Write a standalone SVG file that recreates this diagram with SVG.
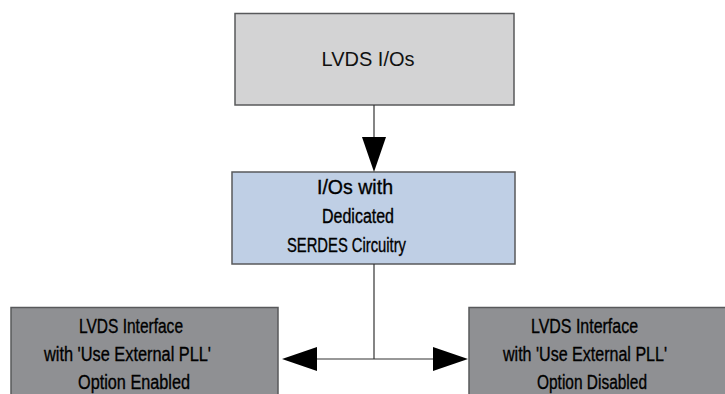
<svg xmlns="http://www.w3.org/2000/svg" width="725" height="394" viewBox="0 0 725 394">
<style>
.box{stroke:#58595b;stroke-width:1.5}
.t1{font-family:"Liberation Sans",Arial,sans-serif;font-size:20px;fill:#111}
.t2{font-family:"Liberation Sans",Arial,sans-serif;font-size:20px;fill:#000;stroke:#000;stroke-width:0.35}
.ln{stroke:#333;stroke-width:1.2;fill:none}
.ah{fill:#000}
</style>
<rect width="725" height="394" fill="#fff"/>
<g id="node-lvds-ios">
<rect class="box" x="235" y="13.5" width="279" height="91.5" fill="#d3d3d4"/>
<text class="t1" x="368" y="66" text-anchor="middle">LVDS I/Os</text>
</g>
<g id="node-serdes">
<rect class="box" x="232" y="172" width="283" height="92" fill="#bfcfe5"/>
<text class="t2" x="317" y="194" textLength="76" lengthAdjust="spacingAndGlyphs">I/Os with</text>
<text class="t2" x="322" y="223" textLength="72" lengthAdjust="spacingAndGlyphs">Dedicated</text>
<text class="t2" x="287" y="252" textLength="119" lengthAdjust="spacingAndGlyphs">SERDES Circuitry</text>
</g>
<g id="node-enabled">
<rect class="box" x="11" y="307.5" width="267" height="100" fill="#8f9093"/>
<text class="t2" x="79" y="333" textLength="104" lengthAdjust="spacingAndGlyphs">LVDS Interface</text>
<text class="t2" x="44" y="361" textLength="167" lengthAdjust="spacingAndGlyphs">with 'Use External PLL'</text>
<text class="t2" x="78" y="389" textLength="112" lengthAdjust="spacingAndGlyphs">Option Enabled</text>
</g>
<g id="node-disabled">
<rect class="box" x="469" y="307.5" width="270" height="100" fill="#8f9093"/>
<text class="t2" x="531" y="333" textLength="107" lengthAdjust="spacingAndGlyphs">LVDS Interface</text>
<text class="t2" x="503" y="361" textLength="164" lengthAdjust="spacingAndGlyphs">with 'Use External PLL'</text>
<text class="t2" x="537" y="389" textLength="110" lengthAdjust="spacingAndGlyphs">Option Disabled</text>
</g>
<g id="connectors">
<line class="ln" x1="374" y1="105" x2="374" y2="137"/>
<polygon class="ah" points="362,137 386,137 374,172"/>
<line class="ln" x1="374" y1="264" x2="374" y2="359"/>
<line class="ln" x1="316" y1="359" x2="434" y2="359"/>
<polygon class="ah" points="317,347 317,371 282,359"/>
<polygon class="ah" points="433,347 433,371 468,359"/>
</g>
</svg>
